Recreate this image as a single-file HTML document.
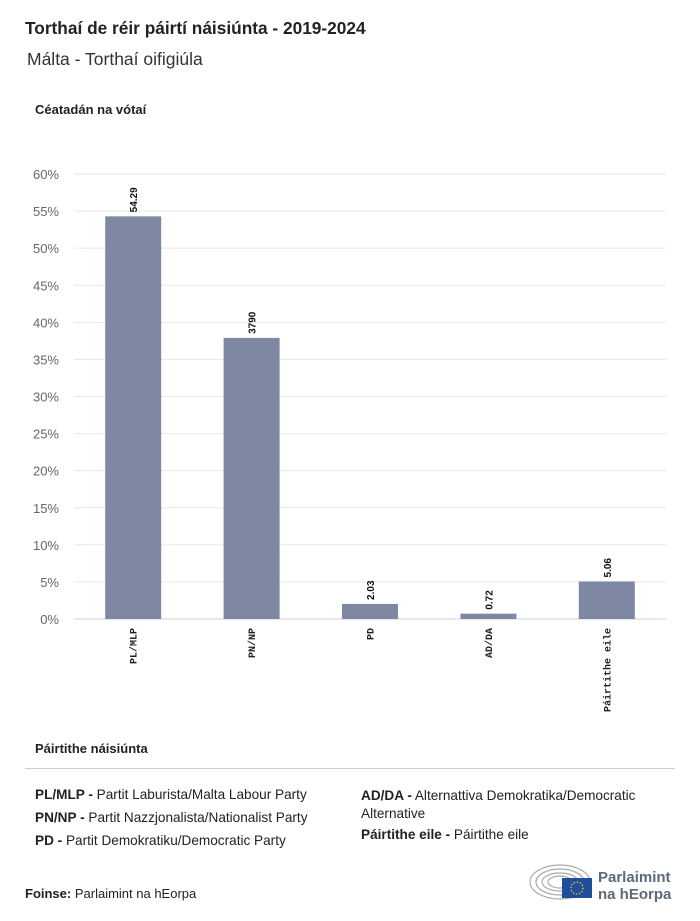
<!DOCTYPE html>
<html><head><meta charset="utf-8"><style>
body{margin:0;width:700px;height:921px;background:#fff;font-family:"Liberation Sans",sans-serif;color:#222;position:relative;overflow:hidden}
.a{position:absolute;white-space:nowrap}
</style></head><body>
<div class="a" style="left:25px;top:18px;font-size:17.3px;font-weight:bold;color:#222">Torthaí de réir páirtí náisiúnta - 2019-2024</div>
<div class="a" style="left:27px;top:49px;font-size:17.5px;color:#333">Málta - Torthaí oifigiúla</div>
<div class="a" style="left:35px;top:102px;font-size:13px;font-weight:bold">Céatadán na vótaí</div>
<svg id="chart" width="700" height="730" style="position:absolute;left:0;top:0"></svg>
<div class="a" style="left:35px;top:741px;font-size:13px;font-weight:bold">Páirtithe náisiúnta</div>
<div class="a" style="left:25px;top:768px;width:650px;height:1px;background:#ccc"></div>
<div class="a" style="left:35px;top:787px;font-size:13.6px"><b>PL/MLP -</b> Partit Laburista/Malta Labour Party</div>
<div class="a" style="left:35px;top:810px;font-size:13.6px"><b>PN/NP -</b> Partit Nazzjonalista/Nationalist Party</div>
<div class="a" style="left:35px;top:833px;font-size:13.6px"><b>PD -</b> Partit Demokratiku/Democratic Party</div>
<div class="a" style="left:361px;top:787px;font-size:13.6px;line-height:18px"><b>AD/DA -</b> Alternattiva Demokratika/Democratic<br>Alternative</div>
<div class="a" style="left:361px;top:827px;font-size:13.6px"><b>Páirtithe eile -</b> Páirtithe eile</div>
<div class="a" style="left:25px;top:886px;font-size:13px"><b>Foinse:</b> Parlaimint na hEorpa</div>
<svg class="a" style="left:528px;top:860px" width="150" height="45">
<g fill="none" stroke="#aaa" stroke-width="1.2">
<ellipse cx="32" cy="22" rx="30" ry="17"/><ellipse cx="32" cy="22" rx="24" ry="13"/><ellipse cx="32" cy="22" rx="18" ry="9"/><ellipse cx="32" cy="22" rx="12" ry="6"/></g>
<rect x="34" y="18" width="30" height="20" fill="#1f4e9c"/>
<circle cx="49" cy="28" r="6" fill="none" stroke="#ffd700" stroke-width="1.3" stroke-dasharray="1.3 1.8"/>
<text x="70" y="22" font-size="15" font-weight="bold" fill="#5e6a7a" font-family="Liberation Sans,sans-serif">Parlaimint</text>
<text x="70" y="39" font-size="15" font-weight="bold" fill="#5e6a7a" font-family="Liberation Sans,sans-serif">na hEorpa</text>
</svg>
<script>
const categories=["PL/MLP","PN/NP","PD","AD/DA","Páirtithe eile"];
const values=[54.29,37.90,2.03,0.72,5.06];
const valueLabels=["54.29","3790","2.03","0.72","5.06"];
const yTicks=[0,5,10,15,20,25,30,35,40,45,50,55,60];
const NS="http://www.w3.org/2000/svg";
const svg=document.getElementById('chart');
const x0=74,x1=666,y0=619,yTop=174,yMax=60;
const y=v=>y0-(v/yMax)*(y0-yTop);
const band=(x1-x0)/categories.length;
const xc=i=>x0+band*(i+0.5);
function mk(t,a){const e=document.createElementNS(NS,t);for(const k in a)e.setAttribute(k,a[k]);svg.appendChild(e);return e;}
yTicks.forEach(t=>{
 const g=mk('line',{x1:x0,x2:x1,y1:y(t),y2:y(t),stroke:t===0?'#c8d0e0':'#e6e6e6','stroke-width':1});
 
 
 const l=mk('text',{x:59,y:y(t)+5,'text-anchor':'end','font-size':13,fill:'#666','font-family':'Liberation Sans,sans-serif'});
 l.textContent=t+'%';
 
 
});
categories.forEach((c,i)=>{
 const b=mk('rect',{x:xc(i)-28,y:y(values[i]),width:56,height:y0-y(values[i]),fill:'#7f88a3'});
 
 
 const v=mk('text',{transform:`translate(${xc(i)+4},${y(values[i])-4}) rotate(-90)`,'font-size':10,'font-weight':'bold',fill:'#111','font-family':'Liberation Sans,sans-serif'});
 v.textContent=valueLabels[i];
 
 
 const l=mk('text',{transform:`translate(${xc(i)+3.5},${628}) rotate(-90)`,'text-anchor':'end','font-size':10,'font-weight':'bold',fill:'#222','font-family':'Liberation Mono,monospace'});
 l.textContent=c;
 
 
});
</script>
</body></html>
